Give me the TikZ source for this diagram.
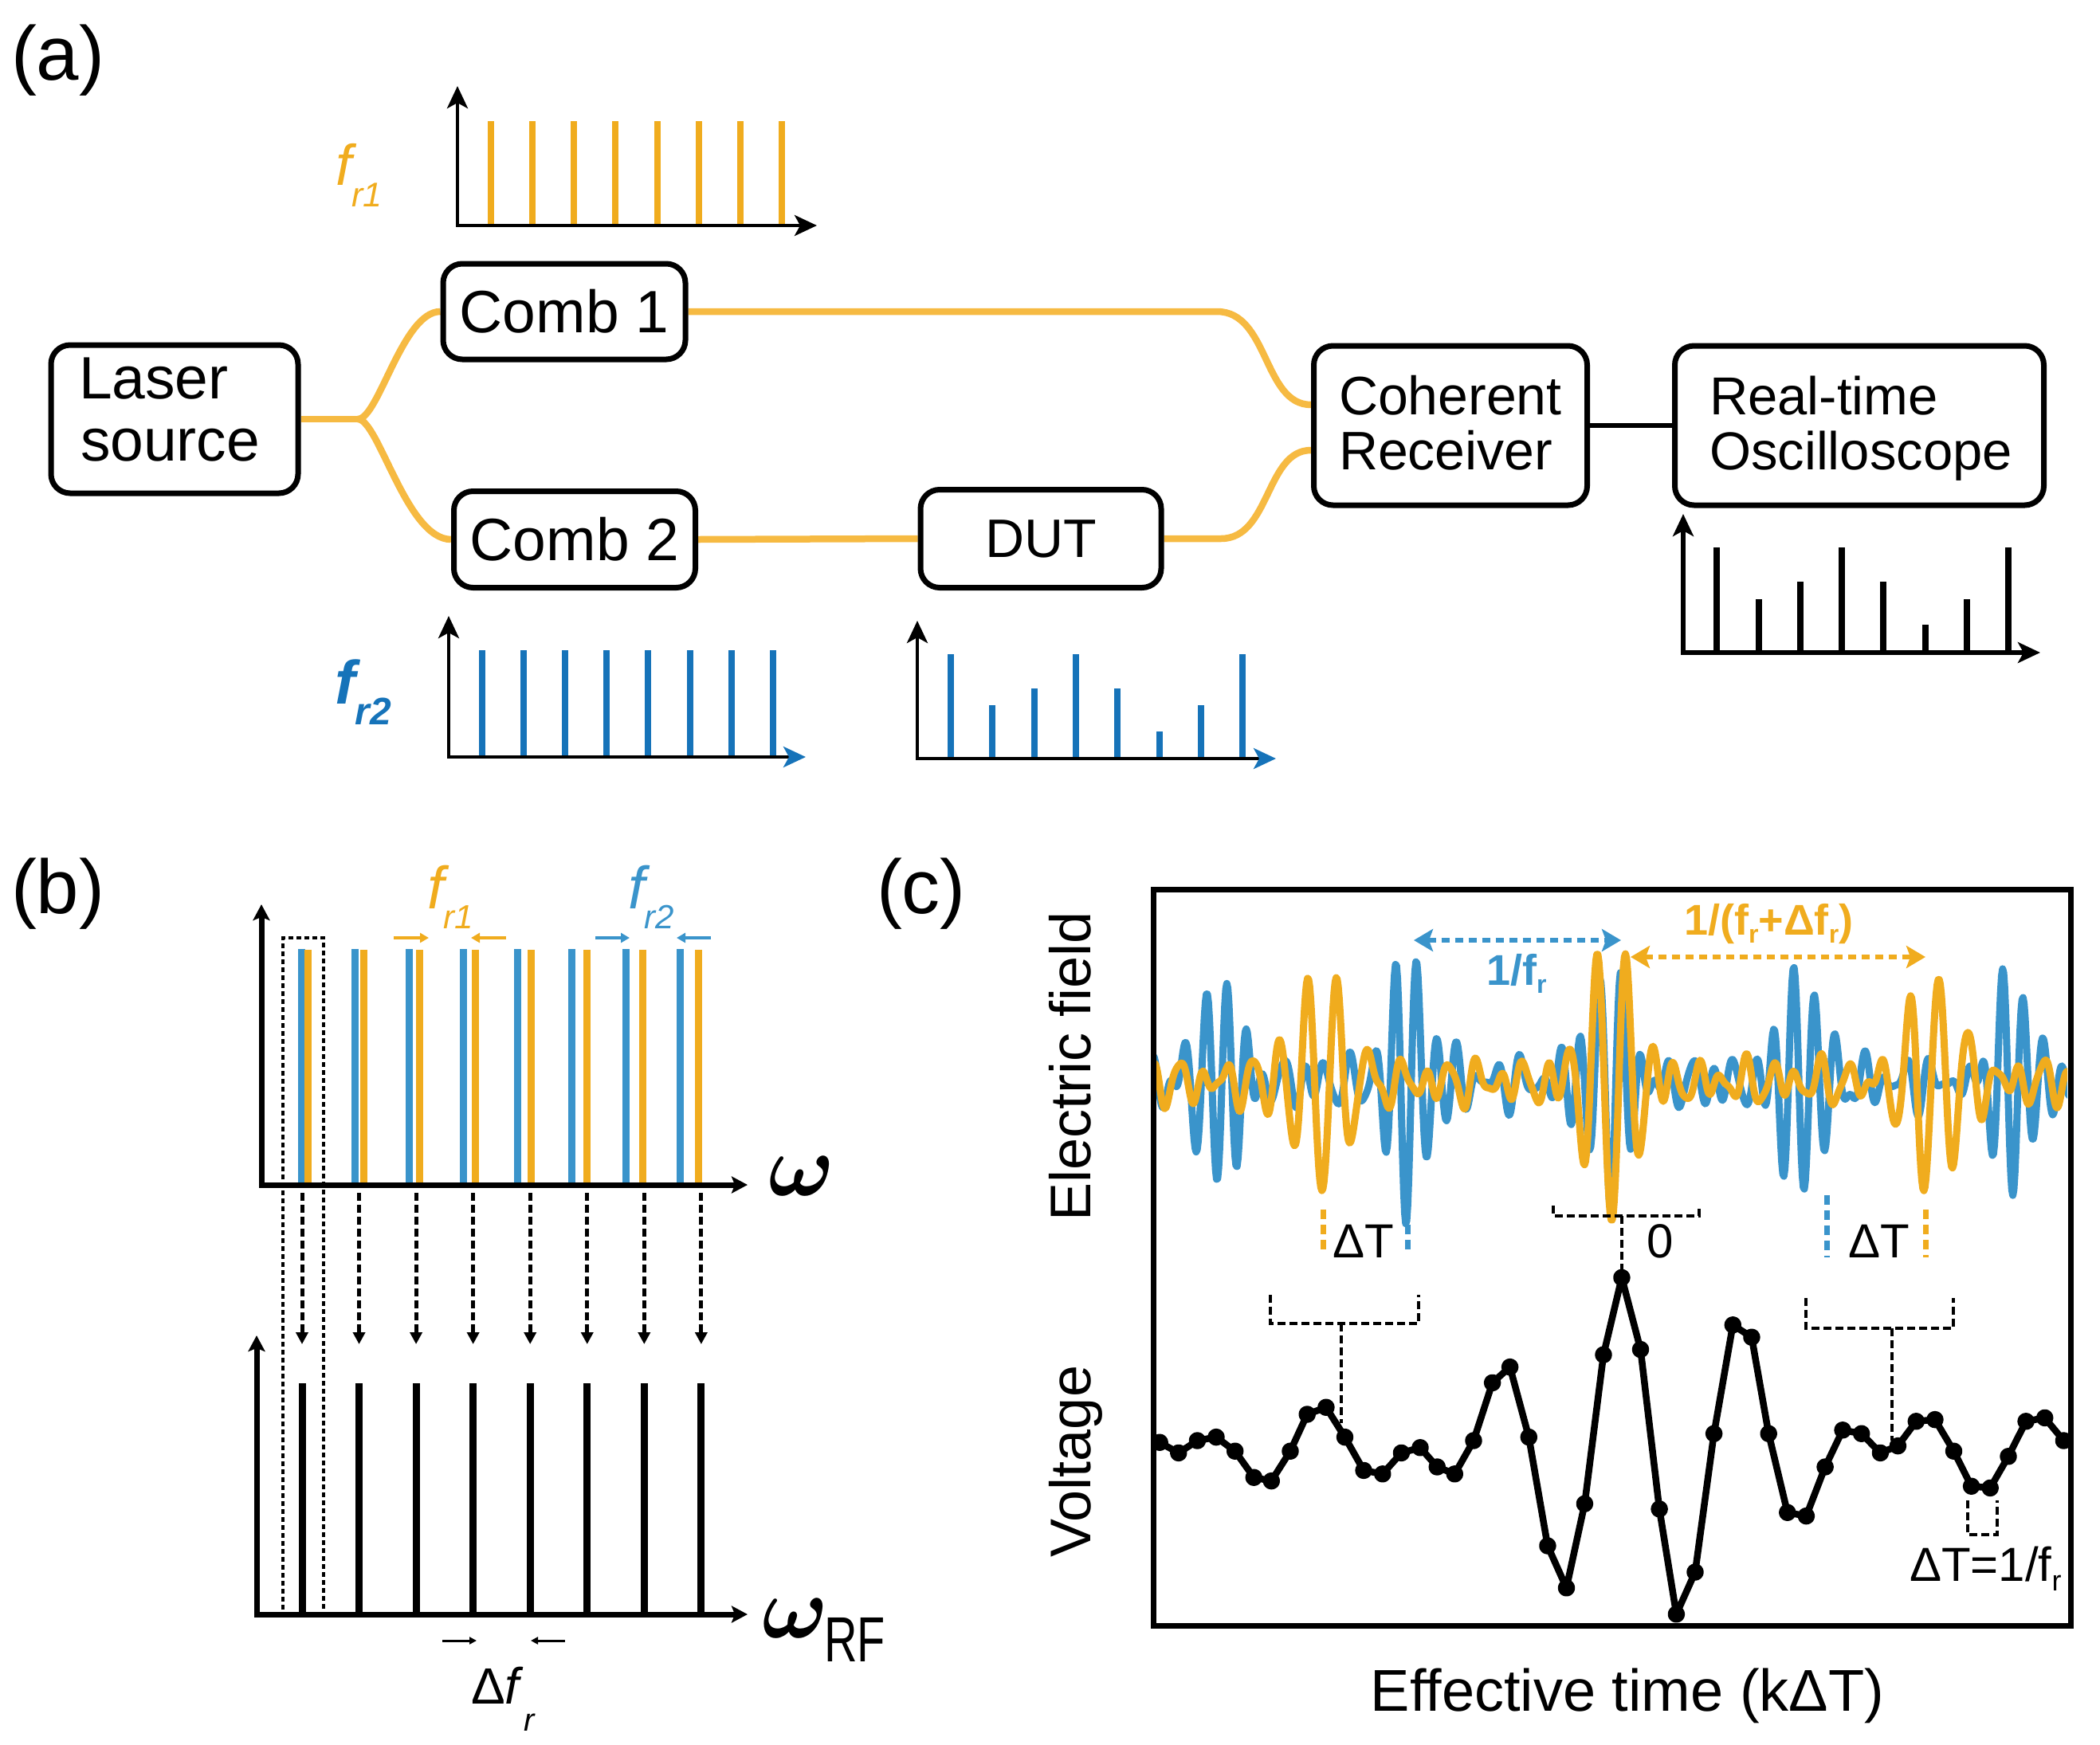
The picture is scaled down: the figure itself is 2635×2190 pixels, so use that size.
\documentclass[tikz,border=0pt]{standalone}
\usepackage{fontspec}
\usepackage{bm}
\setmainfont{Liberation Sans}
\usetikzlibrary{arrows.meta}
\definecolor{fib}{RGB}{246,186,66}
\definecolor{oraA}{RGB}{240,172,30}
\definecolor{blA}{RGB}{22,115,185}
\definecolor{blB}{RGB}{58,148,203}
\newcommand\fs[1]{\fontsize{#1pt}{#1pt}\selectfont}
\pgfdeclarelayer{bg}
\pgfsetlayers{bg,main}
\begin{document}
\begin{tikzpicture}[x=1pt,y=-1pt,
  box/.style={draw, line width=7pt, rounded corners=24pt, fill=white, inner sep=0pt, font=\fs{75}},
  fiber/.style={draw=fib, line width=8.5pt},
  txt/.style={inner sep=0pt, outer sep=0pt},
  tA/.tip={Stealth[length=28pt,width=26pt,inset=7pt]},
  tAb/.tip={Stealth[length=28pt,width=26pt,inset=7pt,color=blA]},
  tB/.tip={Stealth[length=20pt,width=21pt,inset=4pt]},
  tS/.tip={Triangle[length=11pt,width=12pt]},
  tD/.tip={Stealth[length=24pt,width=28pt,inset=5pt]},
  brk/.style={line width=3.5pt, dash pattern=on 10pt off 5pt},
  mk/.style={line width=7pt, dash pattern=on 12pt off 7pt},
  declare function={
    bpul(\x,\c)=exp(-min(((\x-\c)/38)^2,9))*cos(mod(\x-\c,26)*13.846);
    opul(\x,\c)=exp(-min(((\x-\c)/48)^2,9))*cos(mod(\x-\c,36)*10);
    blw(\x)=1358+158*(bpul(\x,1527)+bpul(\x,1765)+bpul(\x,2020)+bpul(\x,2263)+bpul(\x,2526))
      +21*sin(mod(\x,27)*13.333+40)+13*sin(mod(\x,43)*8.372+100)+9*sin(mod(\x,19)*18.947+200);
    orw(\x)=1358+150*(opul(\x,1660)+opul(\x,2022)+opul(\x,2414))
      +19*sin(mod(\x,31)*11.613+10)+11*sin(mod(\x,47)*7.66+70)+7*sin(mod(\x,19)*18.95+150);
  }]
\useasboundingbox (0,0) rectangle (2635,2190);

% ---------------- panel labels
\node[txt, anchor=base west, font=\fs{96}] (la) at (14,100) {(a)};
\node[txt, anchor=base west, font=\fs{96}] (lb) at (14,1146) {(b)};
\node[txt, anchor=base west, font=\fs{96}] (lc) at (1100,1146) {(c)};

% ---------------- panel (a): boxes
\node[box, minimum width=310pt, minimum height=186pt] (laser) at (219,526) {};
\node[txt, anchor=base west, font=\fs{75}] (laserA) at (99,500) {Laser};
\node[txt, anchor=base west, font=\fs{75}] (laserB) at (101,578) {source};
\node[box, minimum width=304pt, minimum height=120pt] (comb1) at (708,391) {Comb 1};
\node[box, minimum width=303pt, minimum height=121pt] (comb2) at (721,677) {Comb 2};
\node[box, minimum width=302pt, minimum height=123pt, font=\fs{68}] (dut) at (1306,676) {DUT};
\node[box, minimum width=343pt, minimum height=200pt] (cr) at (1820,534) {};
\node[txt, anchor=base west, font=\fs{68}] (crA) at (1680,520) {Coherent};
\node[txt, anchor=base west, font=\fs{68}] (crB) at (1680,589) {Receiver};
\node[box, minimum width=463pt, minimum height=200pt] (osc) at (2333,534) {};
\node[txt, anchor=base west, font=\fs{67}] (oscA) at (2145,520) {Real-time};
\node[txt, anchor=base west, font=\fs{67}] (oscB) at (2145,589) {Oscilloscope};

\begin{pgfonlayer}{bg}
\coordinate (split) at (449,526);
\draw[fiber] (laser.east) -- (split);
\draw[fiber] (split) .. controls (475,526) and (505,391) .. (comb1.west);
\draw[fiber] (split) .. controls (475,526) and (510,677) .. (comb2.west);
\draw[fiber] (comb1.east) -- (1527,391) .. controls (1592,391) and (1585,508) .. ([yshift=26pt]cr.west);
\draw[fiber] (comb2.east) -- (dut.west);
\draw[fiber] (dut.east) -- (1532,676) .. controls (1594,676) and (1588,565) .. ([yshift=-31pt]cr.west);
\draw[line width=6.5pt] (cr.east) -- (osc.west);
\end{pgfonlayer}

% ---------------- panel (a): spectra
\foreach \i in {0,...,7} \draw[oraA, line width=8pt] ({616+52.14*\i},152) -- ({616+52.14*\i},283);
\draw[line width=4.5pt, tA-tA] (574,108) -- (574,283) -- (1025,283);
\node[txt, anchor=base west, text=oraA] (fr1a) at (421,232) {\fs{72}\itshape f\raisebox{-27pt}{\fs{43}\itshape r1}};

\foreach \i in {0,...,7} \draw[blA, line width=8pt] ({605+52.1*\i},816) -- ({605+52.1*\i},950);
\draw[line width=4.5pt, tA-tAb] (563,773) -- (563,950) -- (1011,950);
\node[txt, anchor=base west, text=blA] (fr2a) at (420,883) {\fs{77}\bfseries\itshape f\raisebox{-26pt}{\fs{48}\bfseries\itshape r2}};

\foreach \xx/\yy in {1193/821,1245/885,1298/864,1350/821,1402/864,1455/918,1507/885,1559/821}
  \draw[blA, line width=8pt] (\xx,\yy) -- (\xx,952);
\draw[line width=4.5pt, tA-tAb] (1151,779) -- (1151,952) -- (1601,952);

\foreach \xx/\yy in {2154/687,2207/752,2259/730,2311/687,2363/730,2416/784,2468/752,2520/687}
  \draw[line width=8.5pt] (\xx,\yy) -- (\xx,819);
\draw[line width=6pt, tA-tA] (2112,645) -- (2112,819) -- (2560,819);

% ---------------- panel (b)
\foreach \i in {0,...,7} {
  \draw[blB, line width=9pt] ({378+67.9*\i},1191) -- ({378+67.9*\i},1485);
  \draw[oraA, line width=9pt] ({386+70*\i},1192) -- ({386+70*\i},1485);
}
\draw[line width=7pt, tB-tB] (328,1135) -- (328,1487) -- (938,1487);
\node[txt] (om1) at (1006,1476) {\scalebox{11}{$\bm{\omega}$}};

\draw[oraA, line width=4pt, -tS] (494,1177) -- (538,1177);
\draw[oraA, line width=4pt, -tS] (635,1177) -- (591,1177);
\draw[blB, line width=4pt, -tS] (747,1177) -- (790,1177);
\draw[blB, line width=4pt, -tS] (892,1177) -- (849,1177);
\node[txt, anchor=base west, text=oraA] (fr1b) at (536,1140) {\fs{75}\itshape f\raisebox{-25pt}{\fs{42}\itshape r1}};
\node[txt, anchor=base west, text=blB] (fr2b) at (788,1140) {\fs{75}\itshape f\raisebox{-25pt}{\fs{42}\itshape r2}};

\foreach \i in {0,...,7}
  \draw[line width=5pt, dash pattern=on 10pt off 5pt, -{Triangle[length=15pt,width=15pt]}] ({379+71.55*\i},1497) -- ({379+71.55*\i},1687);
\foreach \i in {0,...,7}
  \draw[line width=9pt] ({379+71.55*\i},1736) -- ({379+71.55*\i},2026);
\draw[line width=7pt, tB-tB] (322,1676) -- (322,2026) -- (938,2026);
\draw[line width=3.5pt, dash pattern=on 6pt off 4pt] (355,2020) -- (355,1177) -- (406,1177) -- (406,2020);

\draw[line width=3pt, -{Triangle[length=9pt,width=9pt]}] (555,2059) -- (598,2059);
\draw[line width=3pt, -{Triangle[length=9pt,width=9pt]}] (709,2059) -- (666,2059);
\node[txt, anchor=base west] (dfr) at (591,2138) {\fs{64}Δ\textit{f}\raisebox{-34pt}{\fs{40}\itshape r}};
\node[txt] (om2) at (998,2031) {\scalebox{11}{$\bm{\omega}$}};
\node[txt, anchor=base west] (rf) at (1034,2085) {\fs{80}\scalebox{0.72}[1]{RF}};

% ---------------- panel (c)
\begin{scope}
\clip (1451,1120) rectangle (2594,2036);
\draw[blB, line width=9pt, line join=round] plot[domain=1447:2600, samples=900] (\x,{blw(\x)});
\draw[oraA, line width=9pt, line join=round] plot[domain=1447:2600, samples=900] (\x,{orw(\x)});
\end{scope}
\draw[line width=7pt] (1447,1116) rectangle (2598,2040);

\draw[blB, line width=6pt, dash pattern=on 10pt off 7pt, tD-tD] (1774,1180) -- (2034,1180);
\draw[oraA, line width=6pt, dash pattern=on 10pt off 7pt, tD-tD] (2046,1201) -- (2416,1201);
\node[txt, anchor=base west, text=blB] (invfr) at (1865,1236) {\fs{54}\bfseries 1/f\raisebox{-10pt}{\fs{32}\bfseries r}};
\node[txt, anchor=base west, text=oraA] (invfr2) at (2113,1173) {\fs{54}\bfseries 1/(f\raisebox{-10pt}{\fs{32}\bfseries r}+Δf\raisebox{-10pt}{\fs{32}\bfseries r})};

\draw[mk, oraA] (1660,1518) -- (1660,1574);
\draw[mk, blB] (1766,1518) -- (1766,1574);
\draw[mk, blB] (2292,1500) -- (2292,1578);
\draw[mk, oraA] (2416,1518) -- (2416,1578);
\node[txt, anchor=base, font=\fs{60}] (dt1) at (1711,1578) {ΔT};
\node[txt, anchor=base, font=\fs{60}] (zero) at (2083,1578) {0};
\node[txt, anchor=base, font=\fs{60}] (dt2) at (2358,1578) {ΔT};

\draw[brk] (1949,1513) -- (1949,1526) -- (2132,1526) -- (2132,1513);
\draw[brk] (2035,1526) -- (2035,1598);
\draw[brk] (1594,1625) -- (1594,1661) -- (1780,1661) -- (1780,1625);
\draw[brk] (1683,1661) -- (1683,1786);
\draw[brk] (2266,1629) -- (2266,1667) -- (2451,1667) -- (2451,1629);
\draw[brk] (2374,1667) -- (2374,1808);
\draw[brk] (2469,1883) -- (2469,1926) -- (2506,1926) -- (2506,1883);

\draw[line width=8.5pt, line join=round, mark=*, mark size=6.5pt] plot coordinates {
(1455.1,1810.2) (1478.8,1823.4) (1502.4,1808.0) (1526.0,1803.6) (1549.7,1821.2)
(1573.3,1854.2) (1595.3,1858.6) (1619.0,1821.2) (1640.2,1775.0) (1663.9,1766.2)
(1687.5,1803.6) (1711.1,1845.4) (1734.8,1849.8) (1758.4,1823.4) (1782.0,1816.8)
(1803.3,1841.0) (1825.3,1849.8) (1849.0,1808.0) (1872.6,1735.4) (1894.6,1715.6)
(1918.3,1803.6) (1941.9,1940.0) (1965.5,1992.8) (1988.4,1887.2) (2012.0,1700.2)
(2034.9,1603.4) (2058.5,1693.6) (2082.1,1893.8) (2103.4,2025.8) (2127.0,1973.0)
(2150.6,1799.2) (2174.3,1662.8) (2197.9,1678.2) (2219.2,1799.2) (2242.8,1898.2)
(2266.4,1902.6) (2290.1,1841.0) (2312.1,1794.8) (2335.7,1799.2) (2359.4,1823.4)
(2381.4,1814.6) (2404.3,1783.8) (2427.9,1781.6) (2451.5,1821.2) (2473.6,1865.2)
(2497.2,1867.4) (2520.0,1827.8) (2542.1,1783.8) (2565.7,1779.4) (2589.4,1808.0)};

\node[txt, anchor=base west, font=\fs{60}] (dteq) at (2396,1984) {ΔT=1/f\raisebox{-12pt}{\fs{36}r}};

\node[txt, anchor=base, rotate=90, font=\fs{72}] (ef) at (1368,1338) {Electric field};
\node[txt, anchor=base, rotate=90, font=\fs{72}] (volt) at (1368,1834) {Voltage};
\node[txt, anchor=base, font=\fs{74}] (eff) at (2042,2147) {Effective time (kΔT)};
\end{tikzpicture}
\end{document}
